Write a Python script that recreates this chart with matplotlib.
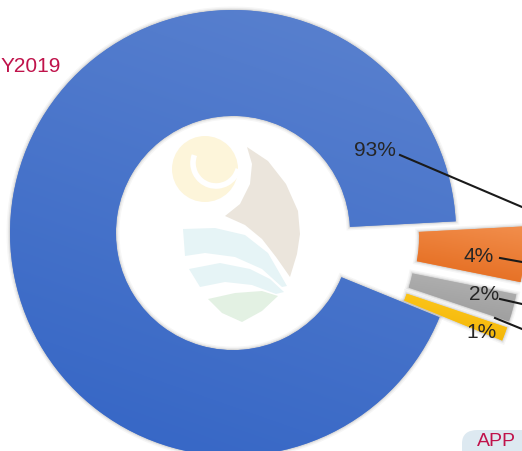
import numpy as np
import matplotlib.pyplot as plt
from matplotlib.patches import Polygon, Circle, Arc, PathPatch, FancyBboxPatch
from matplotlib.colors import LinearSegmentedColormap

plt.rcParams['font.family'] = ['Liberation Sans', 'DejaVu Sans']

# slice values (percent)
values = [93, 4, 2, 1]
explode = [0, 0.31, 0.30, 0.30]
colors_top = ['#5b82cf', '#f28e4c', '#b5b5b5', '#ffcb22']
colors_bot = ['#3465c5', '#e3691b', '#999999', '#f0b000']
title_text = 'Y2019'
tab_text = 'APP'

# pixel frame of the picture: centre of the ring and its outer radius
W, H = 522, 452
CX, CY, R = 233, 234, 223


def px(x, y):
    return ((x - CX) / R, (CY - y) / R)


fig = plt.figure(figsize=(W / 100, H / 100), dpi=100)
ax = fig.add_axes([0, 0, 1, 1])

start = 3 + values[0] / sum(values) * 360
wedges, _ = ax.pie(values, radius=1, startangle=start, counterclock=False,
                   explode=explode, colors=colors_top,
                   wedgeprops=dict(width=0.475, linewidth=0))

# soft shadow + gradient fill for each slice
for w, c1, c2 in zip(wedges, colors_top, colors_bot):
    for lw, a in [(5, 0.035), (3, 0.05), (1.5, 0.07)]:
        ax.add_patch(PathPatch(w.get_path(), fill=False, edgecolor='black',
                               linewidth=lw, alpha=a, zorder=0.8))
    ext = w.get_path().get_extents()
    gx, gy = np.meshgrid(np.linspace(0, 1, 60), np.linspace(0, 1, 60))
    t = (0.35 * gx + gy) / 1.35
    cmap = LinearSegmentedColormap.from_list('g', [c2, c1])
    im = ax.imshow(t, cmap=cmap, origin='lower', aspect='auto',
                   extent=[ext.x0, ext.x1, ext.y0, ext.y1], zorder=1.5,
                   interpolation='bilinear')
    im.set_clip_path(w)

ax.set_xlim(-CX / R, (W - CX) / R)
ax.set_ylim(-(H - CY) / R, CY / R)
ax.axis('off')

# faint logo in the hole
ax.add_patch(Circle(px(205, 170), 33 / R, color='#fdf5da', lw=0, zorder=2))
ax.add_patch(Arc(px(216, 164), 46 / R, 46 / R, theta1=160, theta2=345,
                 color='white', lw=4, zorder=2.1))
leaf = [(247, 148), (268, 162), (286, 185), (298, 212), (300, 235),
        (297, 255), (290, 278), (276, 258), (262, 240), (245, 226),
        (225, 217), (240, 205), (250, 185), (252, 165)]
band1 = [(183, 230), (215, 229), (245, 236), (268, 254), (287, 287),
         (282, 288), (262, 270), (235, 258), (205, 254), (185, 257)]
band2 = [(189, 270), (220, 264), (250, 270), (270, 280), (284, 293),
         (276, 295), (252, 286), (225, 283), (200, 288)]
leafg = [(208, 300), (235, 294), (262, 292), (278, 297), (262, 312),
         (242, 323), (222, 314)]
for pts, col in [(leaf, '#ebe5dc'), (band1, '#e6f4f6'), (band2, '#e6f4f6'),
                 (leafg, '#e3f1e3')]:
    ax.add_patch(Polygon([px(*p) for p in pts], color=col, lw=0, zorder=2))

# data labels with leader lines running off to the right
label_pos = [(375, 150), (479, 256), (484, 294), (481, 333)]
line_pts = [((400, 156), (522, 208)), ((500, 259), (522, 263)),
            ((500, 300), (522, 305)), ((495, 319), (522, 330))]
for v, (lx, ly), (p0, p1) in zip(values, label_pos, line_pts):
    ax.text(*px(lx, ly), f'{v}%', ha='center', va='center', fontsize=15,
            color='#262626', zorder=5)
    a, b = px(*p0), px(*p1)
    ax.plot([a[0], b[0]], [a[1], b[1]], color='#1a1a1a', lw=1.5, zorder=4,
            clip_on=False)

fig.text(0.5 / W, 1 - 67 / H, title_text, ha='left', va='center',
         fontsize=15, color='#c0134b')
fig.patches.append(FancyBboxPatch((462 / W, -0.05), 0.2, 0.05 + 21 / H,
                                  boxstyle='round,pad=0,rounding_size=0.03',
                                  transform=fig.transFigure, fc='#dde9f1',
                                  ec='none', figure=fig))
fig.text(477 / W, 1 - 446 / H, tab_text, ha='left', va='baseline',
         fontsize=14, color='#c0134b')

fig.savefig('out.png', dpi=100)
